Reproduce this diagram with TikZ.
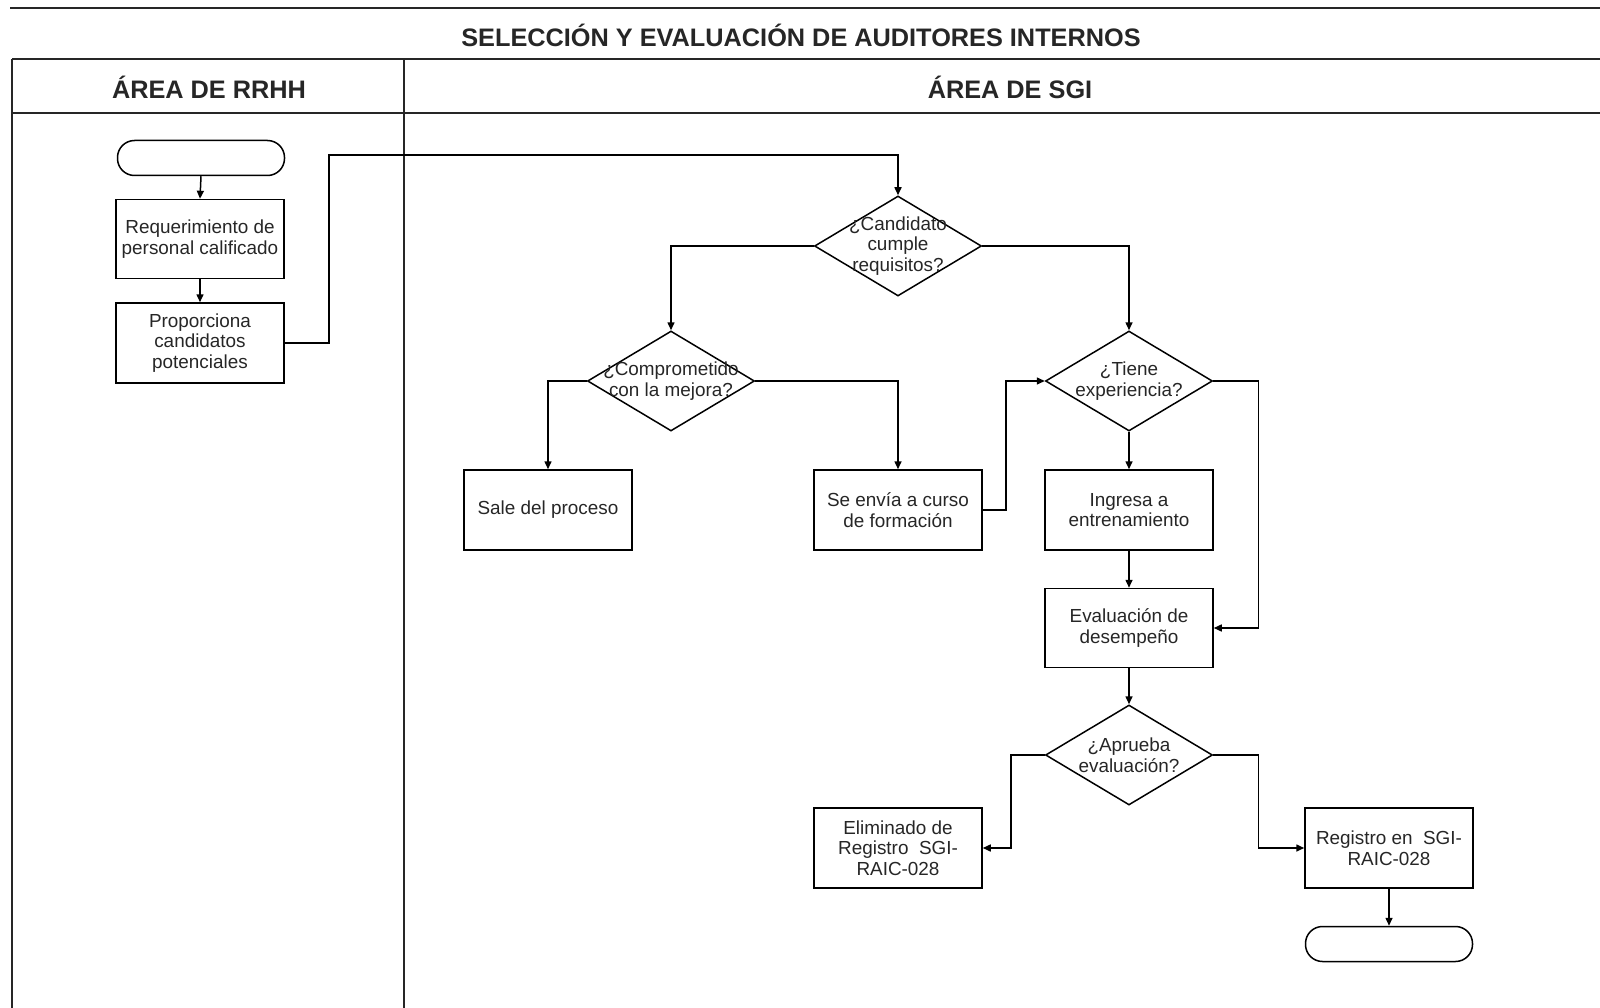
\documentclass[tikz,border=0pt]{standalone}
\usepackage{fontspec}
\setmainfont{Liberation Sans}
\usetikzlibrary{shapes.geometric,arrows.meta}

\newcommand{\boxfont}{\fontsize{18.9}{20.5}\selectfont}
\newcommand{\headfont}{\fontsize{25.3}{28}\selectfont\bfseries}

\begin{document}
\begin{tikzpicture}[x=1pt,y=-1pt,
  lane/.style={line width=2.2pt, black!85},
  proc/.style={draw, line width=1.5pt, minimum width=168pt, minimum height=79pt,
    align=center, font=\boxfont, inner sep=2pt, text=black!85},
  term/.style={draw, line width=1.5pt, rounded corners=17pt, minimum width=167pt,
    minimum height=35pt, inner sep=0pt},
  dia/.style={draw, diamond, line width=1.5pt, minimum width=167pt,
    minimum height=100pt, inner sep=0pt},
  dtext/.style={align=center, font=\boxfont, text=black!85, inner sep=0pt},
  flow/.style={line width=1.5pt, -{Triangle[length=8pt,width=7pt]}},
  head/.style={font=\headfont, text=black!85, inner sep=0pt}
]
\useasboundingbox (0,0) rectangle (1600,1008);

% frame and swimlanes
\draw[lane] (10,8) -- (1600,8);
\draw[lane] (12,59) -- (1600,59);
\draw[lane] (12,113) -- (1600,113);
\draw[lane] (12,59) -- (12,1008);
\draw[lane] (404,59) -- (404,1008);

\node[head] (title) at (801,35) {SELECCIÓN Y EVALUACIÓN DE AUDITORES INTERNOS};
\node[head] (rrhh) at (209,87) {ÁREA DE RRHH};
\node[head] (sgi) at (1010,87) {ÁREA DE SGI};

% HR lane
\node[term] (start) at (201,158) {};
\node[proc] (req) at (200,239) {Requerimiento de\\personal calificado};
\node[proc, minimum height=80pt] (prop) at (200,343) {Proporciona\\candidatos\\potenciales};

% SGI lane
\node[dia, label={[dtext]center:{¿Candidato\\cumple\\requisitos?}}] (d1) at (898,246) {};
\node[dia, label={[dtext]center:{¿Comprometido\\con la mejora?}}] (d2) at (671,381) {};
\node[dia, label={[dtext]center:{¿Tiene\\experiencia?}}] (d3) at (1129,381) {};
\node[proc, minimum height=80pt] (sale) at (548,510) {Sale del proceso};
\node[proc, minimum height=80pt] (curso) at (898,510) {Se envía a curso\\de formación};
\node[proc, minimum height=80pt] (ing) at (1129,510) {Ingresa a\\entrenamiento};
\node[proc] (eval) at (1129,628) {Evaluación de\\desempeño};
\node[dia, label={[dtext]center:{¿Aprueba\\evaluación?}}] (d4) at (1129,755) {};
\node[proc, minimum height=80pt] (elim) at (898,848) {Eliminado de\\Registro\ \ SGI-\\RAIC-028};
\node[proc, minimum height=80pt] (reg) at (1389,848) {Registro en\ \ SGI-\\RAIC-028};
\node[term] (end) at (1389,944) {};

% connectors
\draw[flow] (start.south) -- (req.north);
\draw[flow] (req.south) -- (prop.north);
\draw[flow] (prop.east) -- ++(44,0) |- ([yshift=40pt]d1.north) -- (d1.north);
\draw[flow] (d1.west) -| (d2.north);
\draw[flow] (d1.east) -| (d3.north);
\draw[flow] (d2.west) -| (sale.north);
\draw[flow] (d2.east) -| (curso.north);
\draw[flow] (curso.east) -- ++(23,0) |- (d3.west);
\draw[flow] (d3.south) -- (ing.north);
\draw[flow] (d3.east) -- ++(45,0) |- (eval.east);
\draw[flow] (ing.south) -- (eval.north);
\draw[flow] (eval.south) -- (d4.north);
\draw[flow] (d4.west) -- ++(-34,0) |- (elim.east);
\draw[flow] (d4.east) -- ++(45,0) |- (reg.west);
\draw[flow] (reg.south) -- (end.north);
\end{tikzpicture}
\end{document}
